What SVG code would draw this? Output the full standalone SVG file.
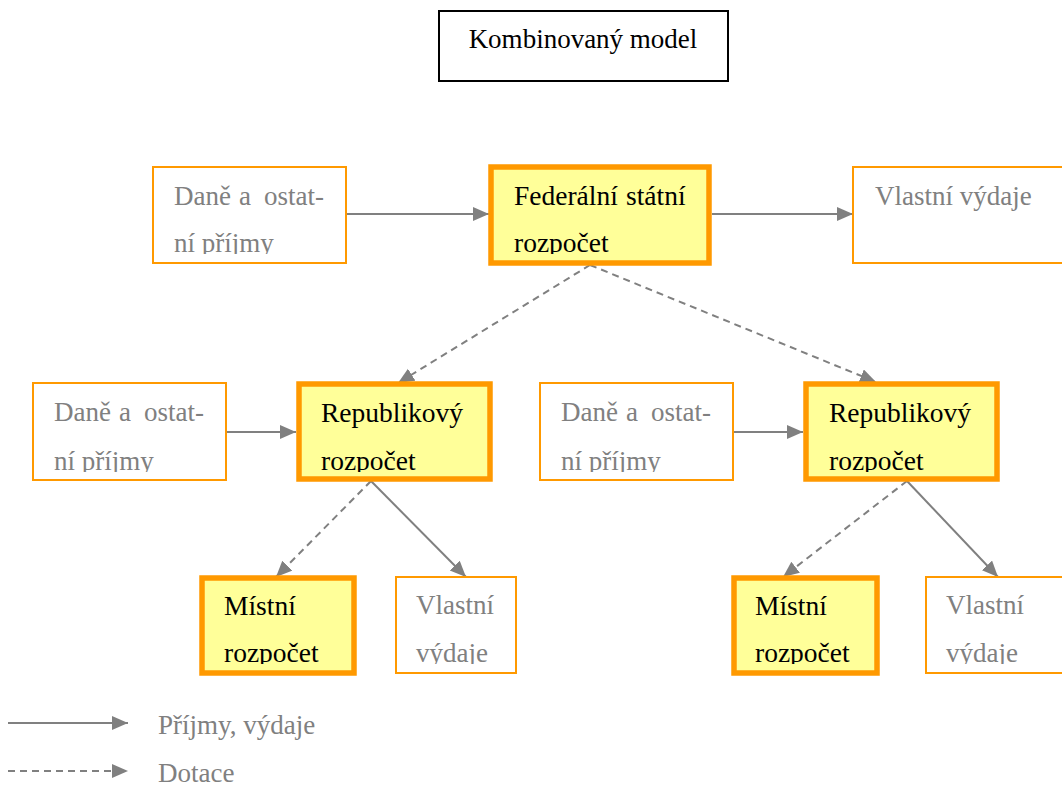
<svg xmlns="http://www.w3.org/2000/svg" width="1062" height="786" viewBox="0 0 1062 786">
<style>
text{font-family:"Liberation Serif","Times New Roman",serif;font-size:27px}
.g{fill:#808080}
.k{fill:#000;font-size:27.5px}
.thin{fill:#fff;stroke:#FF9900;stroke-width:2}
.thick{fill:#FFFF99;stroke:#FF9900;stroke-width:5.5}
.title{fill:#fff;stroke:#000;stroke-width:2}
.c{stroke:#808080;stroke-width:2;fill:none}
.d{stroke-dasharray:7 5}
</style>
<defs>
<marker id="ah" markerUnits="userSpaceOnUse" markerWidth="17" markerHeight="15" refX="16" refY="7" orient="auto">
<path d="M0,0 L16,7 L0,14 z" fill="#808080"/>
</marker>
<clipPath id="c1"><rect x="150" y="160" width="200" height="94"/></clipPath>
<clipPath id="c2"><rect x="490" y="160" width="220" height="94"/></clipPath>
<clipPath id="c3"><rect x="30" y="380" width="200" height="92"/></clipPath>
<clipPath id="c4"><rect x="296" y="380" width="197" height="92"/></clipPath>
<clipPath id="c5"><rect x="537" y="380" width="200" height="92"/></clipPath>
<clipPath id="c6"><rect x="803" y="380" width="197" height="92"/></clipPath>
<clipPath id="c7"><rect x="199" y="575" width="158" height="89"/></clipPath>
<clipPath id="c8"><rect x="396" y="575" width="120" height="89"/></clipPath>
<clipPath id="c9"><rect x="731" y="575" width="149" height="89"/></clipPath>
<clipPath id="c10"><rect x="926" y="575" width="136" height="89"/></clipPath>
</defs>

<g id="title">
<rect class="title" x="439" y="11" width="289" height="70"/>
<text class="k" x="583" y="48" text-anchor="middle" style="font-size:27px">Kombinovaný model</text>
</g>

<g id="connectors">
<line class="c" x1="346" y1="214" x2="489" y2="214" marker-end="url(#ah)"/>
<line class="c" x1="712" y1="214" x2="853" y2="214" marker-end="url(#ah)"/>
<line class="c d" x1="590" y1="265" x2="398" y2="383" marker-end="url(#ah)"/>
<line class="c d" x1="590" y1="265" x2="876" y2="382" marker-end="url(#ah)"/>
<line class="c" x1="226" y1="432" x2="296" y2="432" marker-end="url(#ah)"/>
<line class="c" x1="733" y1="432" x2="803" y2="432" marker-end="url(#ah)"/>
<line class="c d" x1="371" y1="481" x2="276" y2="577" marker-end="url(#ah)"/>
<line class="c" x1="371" y1="481" x2="466" y2="577" marker-end="url(#ah)"/>
<line class="c d" x1="907" y1="481" x2="783" y2="577" marker-end="url(#ah)"/>
<line class="c" x1="907" y1="481" x2="998" y2="577" marker-end="url(#ah)"/>
</g>

<g id="dane1">
<rect class="thin" x="153" y="167" width="193" height="96"/>
<g clip-path="url(#c1)">
<text class="g" y="205"><tspan x="174">Daně</tspan><tspan x="239">a</tspan><tspan x="264">ostat-</tspan></text>
<text class="g" x="174" y="252">ní příjmy</text>
</g>
</g>

<g id="federalni">
<rect class="thick" x="491" y="167" width="218" height="96"/>
<g clip-path="url(#c2)">
<text class="k" y="205"><tspan x="514">Federální</tspan><tspan x="626">státní</tspan></text>
<text class="k" x="514" y="252">rozpočet</text>
</g>
</g>

<g id="vydaje-top">
<rect class="thin" x="853" y="167" width="215" height="96"/>
<text class="g" x="875" y="205">Vlastní výdaje</text>
</g>

<g id="dane2">
<rect class="thin" x="33" y="383" width="193" height="97"/>
<g clip-path="url(#c3)">
<text class="g" y="421"><tspan x="54">Daně</tspan><tspan x="119">a</tspan><tspan x="144">ostat-</tspan></text>
<text class="g" x="54" y="470">ní příjmy</text>
</g>
</g>

<g id="republikovy1">
<rect class="thick" x="299" y="384" width="191" height="95"/>
<g clip-path="url(#c4)">
<text class="k" x="321" y="422">Republikový</text>
<text class="k" x="321" y="470">rozpočet</text>
</g>
</g>

<g id="dane3">
<rect class="thin" x="540" y="383" width="193" height="97"/>
<g clip-path="url(#c5)">
<text class="g" y="421"><tspan x="561">Daně</tspan><tspan x="626">a</tspan><tspan x="651">ostat-</tspan></text>
<text class="g" x="561" y="470">ní příjmy</text>
</g>
</g>

<g id="republikovy2">
<rect class="thick" x="806" y="384" width="191" height="95"/>
<g clip-path="url(#c6)">
<text class="k" x="829" y="422">Republikový</text>
<text class="k" x="829" y="470">rozpočet</text>
</g>
</g>

<g id="mistni1">
<rect class="thick" x="202" y="578" width="152" height="95"/>
<g clip-path="url(#c7)">
<text class="k" x="224" y="615">Místní</text>
<text class="k" x="224" y="662">rozpočet</text>
</g>
</g>

<g id="vydaje1">
<rect class="thin" x="396" y="577" width="120" height="96"/>
<g clip-path="url(#c8)">
<text class="g" x="416" y="614">Vlastní</text>
<text class="g" x="416" y="662">výdaje</text>
</g>
</g>

<g id="mistni2">
<rect class="thick" x="734" y="578" width="143" height="95"/>
<g clip-path="url(#c9)">
<text class="k" x="755" y="615">Místní</text>
<text class="k" x="755" y="662">rozpočet</text>
</g>
</g>

<g id="vydaje2">
<rect class="thin" x="926" y="577" width="142" height="96"/>
<g clip-path="url(#c10)">
<text class="g" x="946" y="614">Vlastní</text>
<text class="g" x="946" y="662">výdaje</text>
</g>
</g>

<g id="legend">
<line class="c" x1="8" y1="723" x2="128" y2="723" marker-end="url(#ah)"/>
<line class="c d" x1="8" y1="771" x2="128" y2="771" marker-end="url(#ah)"/>
<text class="g" x="158" y="734">Příjmy, výdaje</text>
<text class="g" x="158" y="782">Dotace</text>
</g>
</svg>
